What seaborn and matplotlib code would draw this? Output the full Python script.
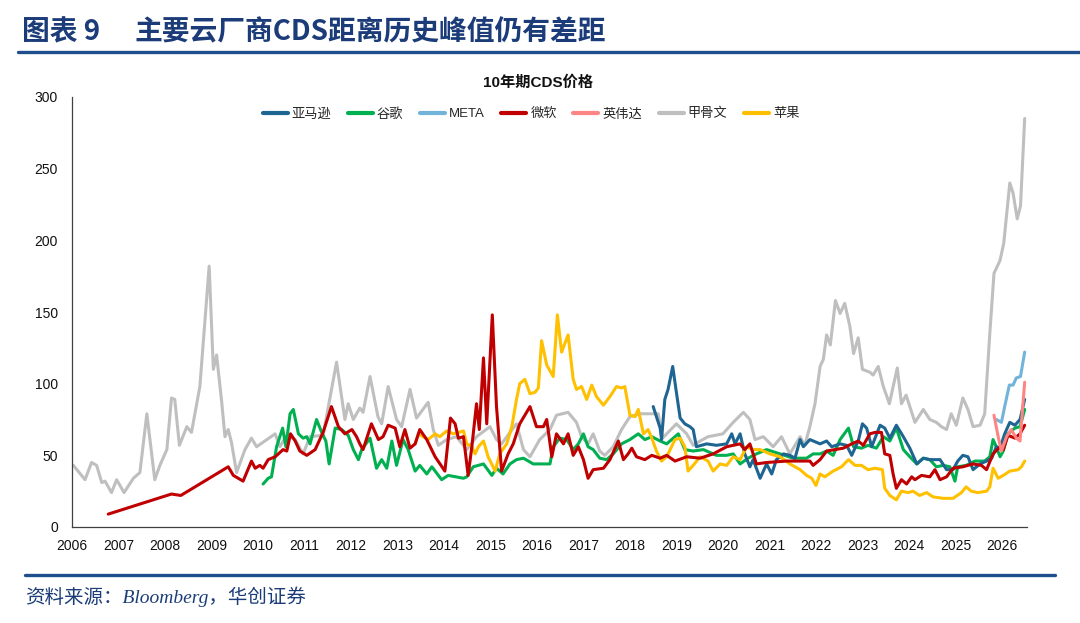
import matplotlib
matplotlib.use('Agg')
import matplotlib.pyplot as plt
import seaborn as sns
import pandas as pd
from matplotlib.lines import Line2D

# ---------------- data (fractional year, CDS bp) ----------------
amzn_t = [2018.50, 2018.57, 2018.65, 2018.68, 2018.75, 2018.82, 2018.92, 2018.99, 2019.08, 2019.18,
          2019.29, 2019.36, 2019.43, 2019.65, 2019.86, 2020.08, 2020.19, 2020.26, 2020.37, 2020.47,
          2020.58, 2020.65, 2020.80, 2020.94, 2021.05, 2021.15, 2021.30, 2021.44, 2021.55, 2021.66,
          2021.73, 2021.87, 2022.09, 2022.23, 2022.34, 2022.52, 2022.66, 2022.77, 2022.91, 2023.00,
          2023.09, 2023.20, 2023.38, 2023.48, 2023.59, 2023.73, 2023.88, 2024.02, 2024.17, 2024.31,
          2024.45, 2024.67, 2024.81, 2024.95, 2025.05, 2025.16, 2025.27, 2025.38, 2025.53, 2025.67,
          2025.78, 2025.88, 2025.96, 2026.06, 2026.17, 2026.28, 2026.39, 2026.49]
amzn_v = [84, 77, 69, 61, 89, 96, 112, 96, 76, 72,
          70, 68, 56, 58, 57, 58, 65, 58, 65, 51,
          42, 47, 34, 44, 37, 47, 51, 50, 48, 61,
          56, 61, 58, 60, 56, 58, 57, 50, 60, 72,
          69, 56, 71, 69, 62, 71, 63, 55, 44, 48,
          47, 47, 40, 40, 46, 50, 49, 40, 44, 46,
          48, 56, 55, 65, 73, 71, 75, 89]

goog_t = [2010.11, 2010.22, 2010.29, 2010.40, 2010.53, 2010.60, 2010.69, 2010.76, 2010.87, 2010.97,
          2011.05, 2011.12, 2011.26, 2011.37, 2011.46, 2011.53, 2011.66, 2011.80, 2011.94, 2012.05,
          2012.16, 2012.23, 2012.41, 2012.55, 2012.66, 2012.77, 2012.88, 2012.98, 2013.12, 2013.23,
          2013.38, 2013.48, 2013.63, 2013.74, 2013.95, 2014.09, 2014.42, 2014.49, 2014.63, 2014.85,
          2015.03, 2015.13, 2015.27, 2015.42, 2015.56, 2015.71, 2015.92, 2016.28, 2016.35, 2016.49,
          2016.64, 2016.78, 2016.89, 2017.00, 2017.10, 2017.21, 2017.35, 2017.50, 2017.64, 2017.82,
          2018.00, 2018.18, 2018.32, 2018.47, 2018.65, 2018.79, 2019.04, 2019.18, 2019.36, 2019.58,
          2019.86, 2020.08, 2020.22, 2020.37, 2020.54, 2020.72, 2020.94, 2021.23, 2021.51, 2021.80,
          2021.94, 2022.09, 2022.23, 2022.37, 2022.52, 2022.70, 2022.81, 2022.98, 2023.12, 2023.30,
          2023.45, 2023.59, 2023.73, 2023.88, 2024.02, 2024.17, 2024.31, 2024.45, 2024.59, 2024.74,
          2024.88, 2024.99, 2025.05, 2025.23, 2025.42, 2025.63, 2025.74, 2025.81, 2025.88, 2025.96,
          2026.03, 2026.13, 2026.28, 2026.39, 2026.49]
goog_v = [30, 34, 35, 56, 69, 56, 79, 82, 65, 62,
          63, 58, 75, 66, 60, 44, 69, 68, 64, 54,
          47, 54, 62, 41, 47, 41, 60, 43, 61, 54,
          39, 43, 37, 42, 33, 36, 34, 35, 42, 44,
          36, 41, 37, 44, 47, 48, 44, 44, 56, 62,
          61, 54, 58, 65, 56, 54, 48, 47, 51, 58,
          61, 65, 61, 63, 60, 58, 65, 54, 53, 54,
          50, 50, 51, 44, 48, 51, 54, 51, 48, 48,
          51, 51, 53, 50, 61, 69, 56, 55, 57, 55,
          63, 60, 69, 54, 49, 44, 48, 47, 42, 43,
          42, 32, 42, 43, 46, 46, 49, 61, 56, 49,
          53, 65, 69, 70, 82]

meta_t = [2025.88, 2025.99, 2026.06, 2026.16, 2026.24, 2026.31, 2026.40, 2026.49]
meta_v = [75, 73, 84, 99, 99, 104, 105, 122]

msft_t = [2006.78, 2008.14, 2008.34, 2009.36, 2009.47, 2009.68, 2009.86, 2009.94, 2010.04, 2010.11,
          2010.22, 2010.37, 2010.54, 2010.62, 2010.70, 2010.80, 2010.90, 2011.05, 2011.23, 2011.40,
          2011.58, 2011.73, 2011.87, 2012.02, 2012.12, 2012.19, 2012.26, 2012.44, 2012.59, 2012.69,
          2012.80, 2012.95, 2013.05, 2013.16, 2013.27, 2013.38, 2013.48, 2013.63, 2013.81, 2014.02,
          2014.14, 2014.24, 2014.31, 2014.42, 2014.52, 2014.60, 2014.70, 2014.76, 2014.85, 2014.92,
          2015.04, 2015.13, 2015.24, 2015.38, 2015.49, 2015.63, 2015.85, 2015.99, 2016.14, 2016.21,
          2016.32, 2016.42, 2016.57, 2016.67, 2016.78, 2016.89, 2017.00, 2017.10, 2017.21, 2017.43,
          2017.57, 2017.75, 2017.86, 2017.96, 2018.04, 2018.14, 2018.32, 2018.47, 2018.65, 2018.79,
          2018.97, 2019.22, 2019.51, 2019.79, 2020.08, 2020.37, 2020.47, 2020.58, 2020.72, 2020.94,
          2021.37, 2021.66, 2021.87, 2021.94, 2022.09, 2022.23, 2022.59, 2022.77, 2022.91, 2023.02,
          2023.16, 2023.27, 2023.41, 2023.48, 2023.59, 2023.66, 2023.73, 2023.84, 2023.95, 2024.06,
          2024.13, 2024.27, 2024.45, 2024.56, 2024.67, 2024.81, 2024.95, 2025.16, 2025.38, 2025.56,
          2025.67, 2025.81, 2025.96, 2026.03, 2026.13, 2026.28, 2026.39, 2026.49]
msft_v = [9, 23, 22, 42, 36, 32, 46, 41, 43, 41,
          47, 49, 54, 53, 65, 60, 53, 50, 54, 66,
          84, 70, 65, 68, 63, 58, 54, 72, 61, 63,
          71, 69, 56, 68, 55, 58, 68, 61, 49, 39,
          76, 72, 62, 63, 36, 56, 86, 68, 118, 72,
          148, 84, 39, 51, 58, 72, 84, 70, 70, 75,
          49, 65, 58, 65, 50, 56, 47, 34, 40, 41,
          47, 60, 47, 51, 55, 49, 47, 50, 48, 50,
          46, 49, 48, 51, 56, 58, 54, 58, 44, 45,
          46, 46, 46, 43, 47, 53, 55, 58, 60, 57,
          65, 66, 66, 51, 50, 37, 27, 33, 30, 35,
          33, 36, 35, 40, 33, 35, 41, 42, 44, 43,
          40, 51, 56, 54, 64, 62, 65, 71]

nvda_t = [2025.83, 2025.92, 2025.99, 2026.10, 2026.20, 2026.31, 2026.39, 2026.49]
nvda_v = [78, 63, 53, 63, 68, 62, 60, 101]

orcl_t = [2006.03, 2006.28, 2006.42, 2006.53, 2006.64, 2006.71, 2006.85, 2006.96, 2007.12, 2007.32,
          2007.46, 2007.61, 2007.78, 2007.89, 2008.04, 2008.14, 2008.21, 2008.31, 2008.47, 2008.57,
          2008.75, 2008.95, 2009.04, 2009.11, 2009.22, 2009.29, 2009.36, 2009.43, 2009.54, 2009.72,
          2009.86, 2009.97, 2010.19, 2010.37, 2010.47, 2010.62, 2010.80, 2010.97, 2011.12, 2011.40,
          2011.69, 2011.87, 2011.94, 2012.05, 2012.19, 2012.26, 2012.41, 2012.58, 2012.66, 2012.80,
          2012.98, 2013.09, 2013.27, 2013.41, 2013.66, 2013.77, 2013.88, 2014.06, 2014.27, 2014.49,
          2014.70, 2014.99, 2015.13, 2015.24, 2015.42, 2015.56, 2015.71, 2015.85, 2016.06, 2016.28,
          2016.42, 2016.67, 2016.85, 2016.96, 2017.10, 2017.21, 2017.35, 2017.46, 2017.64, 2017.82,
          2018.00, 2018.22, 2018.61, 2018.70, 2019.00, 2019.22, 2019.36, 2019.51, 2019.68, 2020.00,
          2020.22, 2020.44, 2020.58, 2020.69, 2020.87, 2021.08, 2021.26, 2021.44, 2021.66, 2021.76,
          2021.87, 2021.98, 2022.09, 2022.16, 2022.23, 2022.31, 2022.42, 2022.52, 2022.62, 2022.73,
          2022.81, 2022.91, 2023.00, 2023.16, 2023.23, 2023.34, 2023.45, 2023.58, 2023.75, 2023.84,
          2023.94, 2024.13, 2024.31, 2024.45, 2024.59, 2024.70, 2024.81, 2024.91, 2025.02, 2025.16,
          2025.27, 2025.38, 2025.53, 2025.63, 2025.74, 2025.83, 2025.96, 2026.04, 2026.17, 2026.24,
          2026.33, 2026.40, 2026.49]
orcl_v = [43, 33, 45, 43, 31, 32, 24, 33, 24, 34,
          38, 79, 33, 43, 54, 90, 89, 57, 70, 66,
          98, 182, 110, 120, 87, 63, 68, 59, 38, 54,
          62, 56, 61, 65, 56, 64, 61, 51, 63, 64,
          115, 75, 86, 75, 83, 80, 105, 77, 72, 98,
          75, 70, 96, 76, 87, 68, 57, 61, 63, 54,
          63, 70, 61, 58, 66, 72, 54, 49, 61, 68,
          78, 80, 73, 63, 58, 65, 53, 50, 56, 68,
          77, 79, 79, 62, 72, 65, 57, 60, 63, 65,
          73, 80, 75, 61, 63, 56, 63, 51, 63, 57,
          70, 86, 112, 117, 134, 127, 158, 149, 156, 140,
          121, 132, 110, 108, 106, 112, 98, 86, 111, 86,
          92, 73, 82, 75, 73, 70, 68, 79, 71, 90,
          82, 70, 71, 79, 135, 177, 186, 198, 240, 233,
          215, 224, 285]

aapl_t = [2013.38, 2013.45, 2013.55, 2013.66, 2013.81, 2013.91, 2014.06, 2014.20, 2014.42, 2014.49,
          2014.60, 2014.67, 2014.74, 2014.85, 2014.95, 2015.10, 2015.20, 2015.35, 2015.46, 2015.56,
          2015.63, 2015.74, 2015.85, 2015.96, 2016.03, 2016.10, 2016.21, 2016.35, 2016.44, 2016.53,
          2016.67, 2016.78, 2016.85, 2016.96, 2017.07, 2017.18, 2017.28, 2017.43, 2017.57, 2017.71,
          2017.82, 2017.89, 2018.00, 2018.11, 2018.18, 2018.29, 2018.39, 2018.47, 2018.57, 2018.68,
          2018.79, 2018.97, 2019.08, 2019.18, 2019.25, 2019.36, 2019.51, 2019.68, 2019.79, 2019.94,
          2020.08, 2020.22, 2020.37, 2020.51, 2020.65, 2020.80, 2021.01, 2021.23, 2021.44, 2021.66,
          2021.80, 2021.91, 2022.00, 2022.09, 2022.19, 2022.37, 2022.55, 2022.70, 2022.84, 2022.98,
          2023.12, 2023.27, 2023.43, 2023.48, 2023.59, 2023.73, 2023.84, 2023.98, 2024.09, 2024.23,
          2024.38, 2024.52, 2024.74, 2024.95, 2025.13, 2025.23, 2025.34, 2025.48, 2025.67, 2025.74,
          2025.81, 2025.92, 2026.03, 2026.17, 2026.35, 2026.42, 2026.49]
aapl_v = [58, 65, 63, 61, 65, 63, 67, 65, 67, 58,
          56, 51, 56, 60, 49, 39, 51, 58, 70, 89,
          100, 103, 93, 94, 97, 130, 113, 105, 148, 122,
          134, 103, 96, 98, 89, 99, 91, 85, 91, 98,
          97, 98, 78, 77, 82, 65, 68, 62, 53, 46,
          49, 61, 62, 56, 39, 43, 49, 46, 39, 44,
          43, 49, 47, 56, 54, 54, 51, 49, 44, 40,
          36, 34, 29, 37, 35, 39, 42, 47, 43, 43,
          40, 41, 40, 27, 22, 19, 25, 24, 25, 22,
          24, 21, 20, 20, 24, 28, 25, 24, 25, 28,
          41, 34, 36, 39, 40, 42, 46]

series_names = ['亚马逊', '谷歌', 'META', '微软', '英伟达', '甲骨文', '苹果']
series_data = [(amzn_t, amzn_v), (goog_t, goog_v), (meta_t, meta_v), (msft_t, msft_v),
               (nvda_t, nvda_v), (orcl_t, orcl_v), (aapl_t, aapl_v)]
year_ticks = list(range(2006, 2027))
value_ticks = [0, 50, 100, 150, 200, 250, 300]

# ---------------- styling ----------------
colors = {'亚马逊': '#1F6592', '谷歌': '#00B050', 'META': '#72B3D9', '微软': '#C00000',
          '英伟达': '#FF8585', '甲骨文': '#BFBFBF', '苹果': '#FFC000'}
zorders = {'亚马逊': 4, '谷歌': 3, 'META': 5, '微软': 6, '英伟达': 7, '甲骨文': 2, '苹果': 5}
navy = '#1B3C78'

frames = []
for name, (t, v) in zip(series_names, series_data):
    frames.append(pd.DataFrame({'year': t, 'value': v, 'series': name}))
df = pd.concat(frames, ignore_index=True)

sns.set_theme(style='white')
plt.rcParams['font.family'] = ['Liberation Sans', 'Noto Sans CJK SC', 'DejaVu Sans']
plt.rcParams['axes.unicode_minus'] = False

fig = plt.figure(figsize=(10.8, 6.23), dpi=100)
fig.patch.set_facecolor('white')
ax = fig.add_axes([72 / 1080, 1 - 527 / 623, (1027 - 72) / 1080, (527 - 97) / 623])

for name in series_names:
    sub = df[df['series'] == name]
    sns.lineplot(data=sub, x='year', y='value', ax=ax, color=colors[name], linewidth=2.2,
                 estimator=None, sort=False, legend=False, zorder=zorders[name])
for ln in ax.get_lines():
    ln.set_solid_joinstyle('round')
    ln.set_solid_capstyle('round')

ax.set_xlim(2006, 2026.54)
ax.set_ylim(0, 300)
ax.set_xticks(year_ticks)
ax.set_xticklabels([str(y) for y in year_ticks])
ax.set_yticks(value_ticks)
ax.set_xlabel('')
ax.set_ylabel('')
ax.tick_params(axis='both', direction='out', length=4, width=0.8, color='#404040',
               labelsize=10, labelcolor='#111111', pad=6)
ax.tick_params(axis='x', pad=5)
for s in ['top', 'right']:
    ax.spines[s].set_visible(False)
for s in ['left', 'bottom']:
    ax.spines[s].set_color('#404040')
    ax.spines[s].set_linewidth(0.9)
ax.set_facecolor('white')

handles = [Line2D([0], [0], color=colors[n], lw=3) for n in series_names]
fig.legend(handles, series_names, loc='center', bbox_to_anchor=(531 / 1080, 1 - 114 / 623),
           bbox_transform=fig.transFigure, ncol=7, frameon=False,
           prop={'family': ['Liberation Sans', 'Noto Sans CJK SC'], 'size': 9.5},
           handlelength=1.9, handletextpad=0.3, columnspacing=1.25)

fig.text(538 / 1080, 1 - 83 / 623, '10年期CDS价格', ha='center', va='center', fontsize=11,
         fontweight='bold', family=['Liberation Sans', 'Noto Sans CJK SC'], color='#111111')

fig.text(22 / 1080, 1 - 32 / 623, '图表 9', ha='left', va='center', fontsize=20,
         fontweight='bold', family=['Noto Sans CJK SC'], color=navy)
fig.text(134 / 1080, 1 - 32 / 623, '主要云厂商CDS距离历史峰值仍有差距', ha='left', va='center',
         fontsize=20, fontweight='bold', family=['Noto Sans CJK SC'], color=navy)

fig.add_artist(Line2D([18 / 1080, 1.0], [1 - 52 / 623] * 2, color='#1F4E8C', lw=2.4))
fig.add_artist(Line2D([25 / 1080, 1055 / 1080], [1 - 575 / 623] * 2, color='#1F4E8C', lw=2.4))

fig.text(25 / 1080, 1 - 597 / 623, '资料来源：Bloomberg，华创证券', ha='left', va='center',
         fontsize=14, style='italic', family=['Liberation Serif', 'Noto Sans CJK SC'], color=navy)

fig.savefig('out.png', dpi=100, facecolor='white')
